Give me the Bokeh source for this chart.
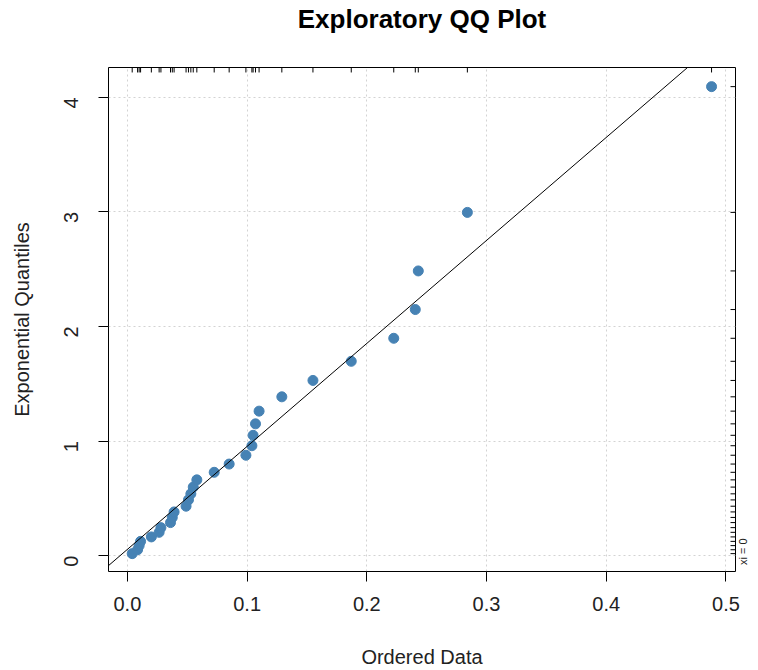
import math
import numpy as np
from bokeh.plotting import figure
from bokeh.models import (Slope, Range1d, NumeralTickFormatter, LinearAxis,
                          FixedTicker, CustomJSTickFormatter)
from bokeh.embed import file_html
from bokeh.resources import INLINE

# Sorted sample values (x) and the matching exponential quantiles (y)
ordered_data = [0.004, 0.0085, 0.0098, 0.011, 0.020, 0.0265, 0.028, 0.036, 0.0375, 0.039,
                0.049, 0.051, 0.053, 0.055, 0.058, 0.0725, 0.085, 0.099, 0.104, 0.105,
                0.107, 0.110, 0.129, 0.155, 0.187, 0.2225, 0.2405, 0.243, 0.284, 0.488]
exp_quantiles = [0.017, 0.051, 0.087, 0.124, 0.163, 0.203, 0.244, 0.288, 0.333, 0.381,
                 0.431, 0.486, 0.539, 0.598, 0.661, 0.727, 0.799, 0.876, 0.959, 1.050,
                 1.150, 1.261, 1.386, 1.529, 1.696, 1.897, 2.148, 2.485, 2.996, 4.094]

x_ticks = [0.0, 0.1, 0.2, 0.3, 0.4, 0.5]
y_ticks = [0, 1, 2, 3, 4]

X_LO, X_HI = -0.0158, 0.508
Y_LO, Y_HI = -0.139, 4.261
FONT = "Liberation Sans"
TEXT = "#222222"

p = figure(width=758, height=670,
           x_range=Range1d(X_LO, X_HI), y_range=Range1d(Y_LO, Y_HI),
           output_backend="svg", toolbar_location=None,
           min_border_left=108, min_border_right=21,
           min_border_top=67, min_border_bottom=97)

p.background_fill_color = "white"
p.border_fill_color = "white"
p.outline_line_color = "black"
p.outline_line_width = 1
p.outline_line_alpha = 1

# dotted light-grey grid at the tick positions
p.xgrid.ticker = x_ticks
p.ygrid.ticker = y_ticks
for g in (p.xgrid, p.ygrid):
    g.grid_line_color = "#D3D3D3"
    g.grid_line_dash = "2 3"
    g.grid_line_width = 1

# main axes
p.xaxis.ticker = x_ticks
p.xaxis.formatter = NumeralTickFormatter(format="0.0")
p.yaxis.ticker = y_ticks
p.yaxis.major_label_orientation = math.pi / 2
for ax in (p.xaxis, p.yaxis):
    ax.axis_line_color = None
    ax.major_tick_line_color = "black"
    ax.major_tick_out = 10
    ax.major_tick_in = 0
    ax.minor_tick_line_color = None
    ax.major_label_text_font = FONT
    ax.major_label_text_font_size = "20px"
    ax.major_label_text_color = TEXT
    ax.axis_label_text_font = FONT
    ax.axis_label_text_font_size = "20px"
    ax.axis_label_text_font_style = "normal"
    ax.axis_label_text_color = TEXT
p.xaxis.axis_label = "Ordered Data"
p.yaxis.axis_label = "Exponential Quantiles"
p.xaxis.major_label_standoff = 15
p.xaxis.axis_label_standoff = 32
p.yaxis.major_label_standoff = 27
p.yaxis.axis_label_standoff = 22

# heading carried by a tick-less axis above the frame
top_axis = LinearAxis(ticker=FixedTicker(ticks=[]), axis_label="Exploratory QQ Plot",
                      axis_line_color=None, major_tick_line_color=None,
                      minor_tick_line_color=None, major_tick_out=0, major_tick_in=0,
                      major_label_standoff=0, axis_label_standoff=34,
                      axis_label_text_font=FONT, axis_label_text_font_size="26px",
                      axis_label_text_font_style="bold", axis_label_text_color="black")
p.add_layout(top_axis, "above")

# shape-parameter note at the lower right, outside the box
xi_axis = LinearAxis(ticker=FixedTicker(ticks=[-0.083]),
                     formatter=CustomJSTickFormatter(code="return 'xi = 0'"),
                     axis_line_color=None, major_tick_line_color=None,
                     minor_tick_line_color=None, major_tick_out=0, major_tick_in=0,
                     major_label_standoff=8, major_label_orientation=math.pi / 2,
                     major_label_text_font=FONT, major_label_text_font_size="11px",
                     major_label_text_color=TEXT)
p.add_layout(xi_axis, "right")

# least-squares reference line
slope, intercept = np.polyfit(ordered_data, exp_quantiles, 1)
p.add_layout(Slope(gradient=slope, y_intercept=intercept,
                   line_color="black", line_width=1))

# points
p.scatter(ordered_data, exp_quantiles, size=10, color="#4682B4", line_color="#4682B4")

# rugs: data along the top edge, quantiles along the right edge
rug_y = 5 / 115
rug_x = 5 / 1200
p.segment(x0=ordered_data, y0=[Y_HI] * len(ordered_data),
          x1=ordered_data, y1=[Y_HI - rug_y] * len(ordered_data),
          line_color="black", line_width=1)
p.segment(x0=[X_HI - rug_x] * len(exp_quantiles), y0=exp_quantiles,
          x1=[X_HI] * len(exp_quantiles), y1=exp_quantiles,
          line_color="black", line_width=1)

open("out.html", "w").write(file_html(p, INLINE))
